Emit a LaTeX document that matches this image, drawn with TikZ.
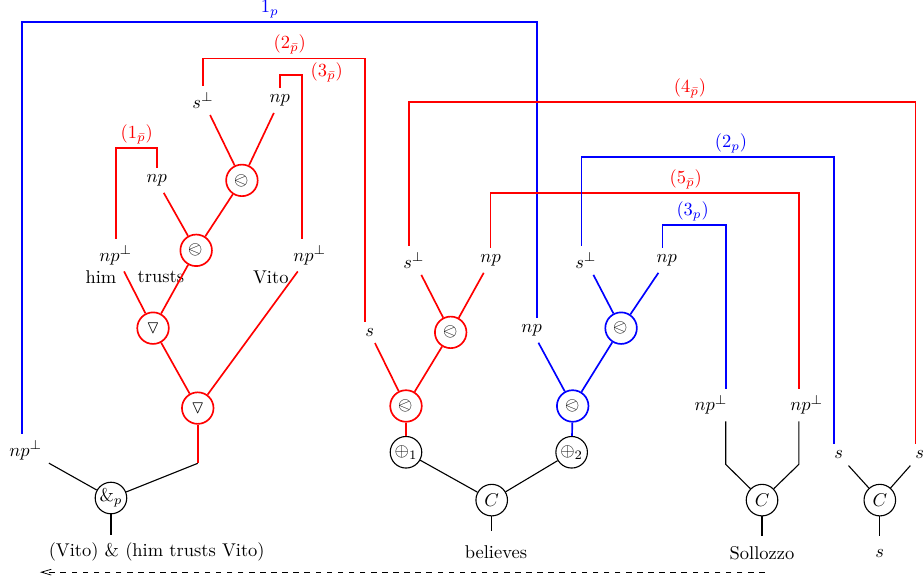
\documentclass[tikz,border=0pt]{standalone}
\usepackage{amssymb}
\usepackage{stmaryrd}
\usetikzlibrary{arrows.meta}
\begin{document}
\begin{tikzpicture}[
  semithick,
  gate/.style={circle, draw, inner sep=0pt, minimum size=0.6cm},
  redgate/.style={gate, draw=red, line width=0.9pt},
  bluegate/.style={gate, draw=blue, line width=0.9pt},
  redlink/.style={red, line width=0.9pt},
  bluelink/.style={blue, line width=0.9pt},
  lbl/.style={above, inner sep=2pt}
]
  \useasboundingbox (0,0) rectangle (17.57,11.05);
  \node (sperpA) at (3.86,9.14) {$s^\perp$};
  \node (npA) at (5.32,9.14) {$np$};
  \node (npB) at (2.98,7.62) {$np$};
  \node[redgate] (gA) at (4.60,7.62) {$\olessthan$};
  \node[redgate] (gB) at (3.73,6.29) {$\olessthan$};
  \node (npHim) at (2.20,6.20) {$np^\perp$};
  \node (npVito) at (5.89,6.20) {$np^\perp$};
  \node (him) at (1.92,5.78) {him};
  \node (trusts) at (3.06,5.78) {trusts};
  \node (vito) at (5.15,5.78) {Vito};
  \node[redgate] (tA) at (2.91,4.81) {$\triangledown$};
  \node[redgate] (tB) at (3.76,3.29) {$\triangledown$};
  \coordinate (kB) at (3.76,2.24);
  \node (npL) at (0.49,2.49) {$np^\perp$};
  \node[gate] (amp) at (2.11,1.58) {$\&_p$};
  \coordinate (ampEnd) at (2.11,0.87);
  \node (phrase) at (2.98,0.55) {(Vito) \& (him trusts Vito)};

  \node (sM) at (7.03,4.73) {$s$};
  \node (sperpM) at (7.87,6.10) {$s^\perp$};
  \node (npM) at (9.33,6.10) {$np$};
  \node[redgate] (gC) at (8.57,4.73) {$\olessthan$};
  \node[redgate] (gD) at (7.72,3.33) {$\olessthan$};
  \node[gate] (o1) at (7.72,2.45) {$\oplus_1$};
  \node (npN) at (10.11,4.77) {$np$};
  \node (sperpN) at (11.14,6.10) {$s^\perp$};
  \node (npO) at (12.68,6.10) {$np$};
  \node[bluegate] (gE) at (11.81,4.81) {$\olessthan$};
  \node[bluegate] (gF) at (10.89,3.33) {$\olessthan$};
  \node[gate] (o2) at (10.87,2.45) {$\oplus_2$};
  \node[gate] (c1) at (9.35,1.54) {$C$};
  \coordinate (c1End) at (9.35,0.95);
  \node (believes) at (9.43,0.55) {believes};

  \node (npR1) at (13.52,3.35) {$np^\perp$};
  \node (npR2) at (15.34,3.35) {$np^\perp$};
  \coordinate (kR1) at (13.80,2.22);
  \coordinate (kR2) at (15.19,2.22);
  \node[gate] (c2) at (14.49,1.54) {$C$};
  \coordinate (c2End) at (14.49,0.86);
  \node (sollozzo) at (14.49,0.53) {Sollozzo};
  \node (sR1) at (15.95,2.40) {$s$};
  \node (sR2) at (17.49,2.40) {$s$};
  \node[gate] (c3) at (16.73,1.54) {$C$};
  \coordinate (c3End) at (16.73,0.86);
  \node (sOut) at (16.73,0.53) {$s$};
  \coordinate (dashR) at (14.54,0.17);
  \coordinate (dashL) at (0.76,0.17);

  \coordinate (t1) at (5.13,10.63);
  \coordinate (t2) at (5.51,9.94);
  \coordinate (t3) at (5.53,9.62);
  \coordinate (t1r) at (2.60,8.23);
  \coordinate (t4) at (13.12,9.11);
  \coordinate (t2b) at (13.90,8.06);
  \coordinate (t5) at (13.04,7.38);
  \coordinate (t3b) at (13.17,6.77);

  \draw[bluelink] ([xshift=-0.07cm]npL.north) |- (t1) -| ([xshift=0.1cm]npN.north);
  \draw[redlink] (sperpA.north) |- (t2) -| ([xshift=-0.09cm]sM.north);
  \draw[redlink] (npA.north) |- (t3) -| ([xshift=-0.15cm]npVito.north);
  \draw[redlink] (npHim.north) |- (t1r) -| (npB.north);
  \draw[redlink] ([xshift=-0.09cm]sperpM.north) |- (t4) -| ([xshift=-0.08cm]sR2.north);
  \draw[redlink] (npM.north) |- (t5) -| ([xshift=-0.15cm]npR2.north);
  \draw[bluelink] ([xshift=-0.08cm]sperpN.north) |- (t2b) -| ([xshift=-0.09cm]sR1.north);
  \draw[bluelink] ([xshift=-0.08cm]npO.north) |- (t3b) -| ([xshift=0.28cm]npR1.north);

  \node[lbl, blue] (l1b) at (t1) {$1_p$};
  \node[lbl, red] (l2r) at (t2) {$(2_{\bar p})$};
  \node[anchor=west, red] (l3r) at (5.78,9.68) {$(3_{\bar p})$};
  \node[lbl, red] (l1r) at (t1r) {$(1_{\bar p})$};
  \node[lbl, red] (l4r) at (t4) {$(4_{\bar p})$};
  \node[lbl, blue] (l2b) at (t2b) {$(2_p)$};
  \node[lbl, red] (l5r) at (t5) {$(5_{\bar p})$};
  \node[lbl, blue] (l3b) at (t3b) {$(3_p)$};

  \draw[redlink] (sperpA) -- (gA);
  \draw[redlink] (npA) -- (gA);
  \draw[redlink] (gA) -- (gB);
  \draw[redlink] (npB) -- (gB);
  \draw[redlink] (npHim) -- (tA);
  \draw[redlink] (gB) -- (tA);
  \draw[redlink] (tA) -- (tB);
  \draw[redlink] (npVito) -- (tB);
  \draw[redlink] (tB) -- (kB);
  \draw (kB) -- (amp);
  \draw (npL) -- (amp);
  \draw (amp) -- (ampEnd);

  \draw[redlink] (sperpM) -- (gC);
  \draw[redlink] (npM) -- (gC);
  \draw[redlink] (gC) -- (gD);
  \draw[redlink] (sM) -- (gD);
  \draw[redlink] (gD) -- (o1);
  \draw[bluelink] (sperpN) -- (gE);
  \draw[bluelink] (npO) -- (gE);
  \draw[bluelink] (gE) -- (gF);
  \draw[bluelink] (npN) -- (gF);
  \draw[bluelink] (gF) -- (o2);
  \draw (o1) -- (c1);
  \draw (o2) -- (c1);
  \draw (c1) -- (c1End);

  \draw ([xshift=0.28cm]npR1.south) -- (kR1) -- (c2);
  \draw ([xshift=-0.15cm]npR2.south) -- (kR2) -- (c2);
  \draw (c2) -- (c2End);
  \draw (sR1) -- (c3);
  \draw (sR2) -- (c3);
  \draw (c3) -- (c3End);
  \draw[thin, dashed, -{Straight Barb[length=1.9mm, width=1.1mm]}] (dashR) -- (dashL);
\end{tikzpicture}
\end{document}
